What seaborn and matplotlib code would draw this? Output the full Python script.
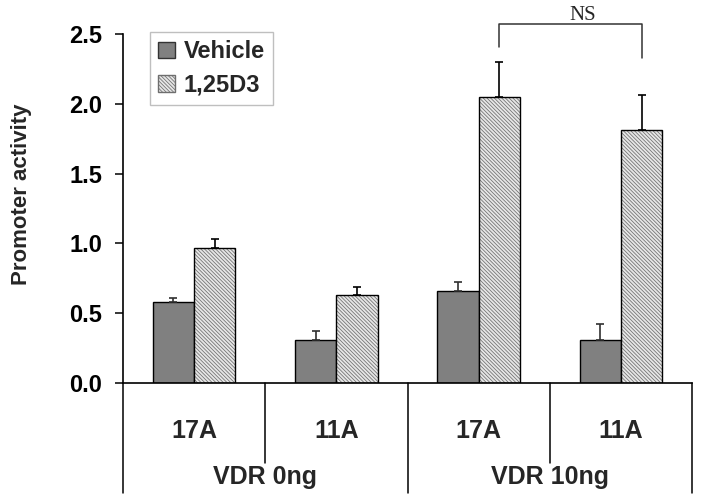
import matplotlib
matplotlib.use("Agg")
import matplotlib.pyplot as plt
import matplotlib.transforms as mtransforms
from matplotlib.patches import Patch, Rectangle
import numpy as np
import pandas as pd
import seaborn as sns

# ---- data ----
groups = ["VDR 0ng", "VDR 0ng", "VDR 10ng", "VDR 10ng"]
constructs = ["17A", "11A", "17A", "11A"]
treatments = ["Vehicle", "1,25D3"]
vehicle = [0.58, 0.31, 0.66, 0.31]
vehicle_err = [0.03, 0.06, 0.06, 0.11]
d3 = [0.97, 0.63, 2.05, 1.81]
d3_err = [0.06, 0.06, 0.25, 0.25]
yticks = [0.0, 0.5, 1.0, 1.5, 2.0, 2.5]
ns_label = "NS"
ns_pair = (2, 3)          # compared 1,25D3 bars
ns_levels = (2.41, 2.57, 2.33)  # left foot, top, right foot

keys = [f"{g}\n{c}" for g, c in zip(groups, constructs)]
df = pd.DataFrame({
    "key": keys * 2,
    "treatment": [treatments[0]] * 4 + [treatments[1]] * 4,
    "value": vehicle + d3,
})

sns.set_theme(style="white")
plt.rcParams["font.family"] = ["Liberation Sans", "DejaVu Sans"]
plt.rcParams["hatch.linewidth"] = 0.55

HATCH = "\\" * 9

fig = plt.figure(figsize=(7.01, 5.01), dpi=100)
ax = fig.add_axes([123 / 701, 118 / 501, 569 / 701, 349 / 501])

veh_color = "#808080"
d3_face = "#e6e6e6"
hatch_col = "#6e6e6e"
sns.barplot(data=df, x="key", y="value", hue="treatment", order=keys,
            hue_order=treatments, palette=[veh_color, d3_face], saturation=1,
            width=0.58, edgecolor="black", linewidth=1.0, errorbar=None,
            legend=False, ax=ax)

# hatch for 1,25D3 bars (gray hatch lines, black outline)
for p in ax.containers[1]:
    p.set_hatch(HATCH)
    p.set_edgecolor(hatch_col)
    p.set_linewidth(0)
    ax.add_patch(Rectangle((p.get_x(), p.get_y()), p.get_width(), p.get_height(),
                           fill=False, edgecolor="black", linewidth=1.0, zorder=p.get_zorder() + 0.1))

# error bars (upper only)
for cont, vals, errs, ec in [(ax.containers[0], vehicle, vehicle_err, "#303030"),
                             (ax.containers[1], d3, d3_err, "black")]:
    for p, v, e in zip(cont, vals, errs):
        xc = p.get_x() + p.get_width() / 2
        ax.errorbar(xc, v, yerr=[[0], [e]], fmt="none", ecolor=ec, elinewidth=1.2,
                    capsize=3.2, capthick=1.2, zorder=1)

ax.set_xlim(-0.5, len(keys) - 0.5)
ax.set_ylim(0, 2.5)
ax.set_yticks(yticks)
ax.set_yticklabels([f"{t:.1f}" for t in yticks], fontsize=17, fontweight="bold")
ax.set_xticks([])
ax.set_xlabel("")
ax.set_ylabel("Promoter activity", fontsize=16, fontweight="bold")
ax.yaxis.set_label_coords(-0.16, 0.54)
ax.tick_params(axis="y", left=True, direction="out", length=6, width=1.1, pad=9, colors="black")
for s in ["top", "right"]:
    ax.spines[s].set_visible(False)
for s in ["left", "bottom"]:
    ax.spines[s].set_color("black")
    ax.spines[s].set_linewidth(1.2)

# category table below the axis
trans = mtransforms.blended_transform_factory(ax.transData, ax.transAxes)
n = len(keys)
for i in range(n + 1):
    outer = i == 0 or i == n or groups[i - 1] != groups[i]
    y1 = -0.315 if outer else -0.229
    ax.plot([i - 0.5, i - 0.5], [0, y1], transform=trans, color="black",
            lw=1.1, clip_on=False)
for i, c in enumerate(constructs):
    ax.text(i, -0.1375, c, transform=trans, ha="center", va="center",
            fontsize=18, fontweight="bold")
seen = []
for g in groups:
    if g not in seen:
        seen.append(g)
for g in seen:
    idx = [i for i, gg in enumerate(groups) if gg == g]
    ax.text(np.mean(idx), -0.27, g, transform=trans, ha="center", va="center",
            fontsize=18, fontweight="bold")

# NS bracket
pl, pr = ax.containers[1][ns_pair[0]], ax.containers[1][ns_pair[1]]
xl = pl.get_x() + pl.get_width() / 2
xr = pr.get_x() + pr.get_width() / 2
ax.plot([xl, xl, xr, xr], [ns_levels[0], ns_levels[1], ns_levels[1], ns_levels[2]],
        color="#333333", lw=1.1, clip_on=False)
ax.text((xl + xr) / 2 + 0.09, ns_levels[1] + 0.03, ns_label, ha="center", va="baseline",
        fontsize=15, family=["Liberation Serif", "DejaVu Serif"], clip_on=False)

# legend
handles = [Patch(facecolor=veh_color, edgecolor="#333333", linewidth=1.0),
           Patch(facecolor=d3_face, edgecolor=hatch_col, hatch=HATCH, linewidth=1.0)]
leg = ax.legend(handles, treatments, loc="upper left", bbox_to_anchor=(0.047, 1.006),
                prop={"size": 17, "weight": "bold"}, frameon=True, fancybox=False,
                handlelength=0.7, handleheight=0.7, handletextpad=0.4,
                labelspacing=0.45, borderpad=0.35, borderaxespad=0)
leg.get_frame().set_edgecolor("#b0b0b0")
leg.get_frame().set_linewidth(1.0)

fig.savefig("out.png", dpi=100)
